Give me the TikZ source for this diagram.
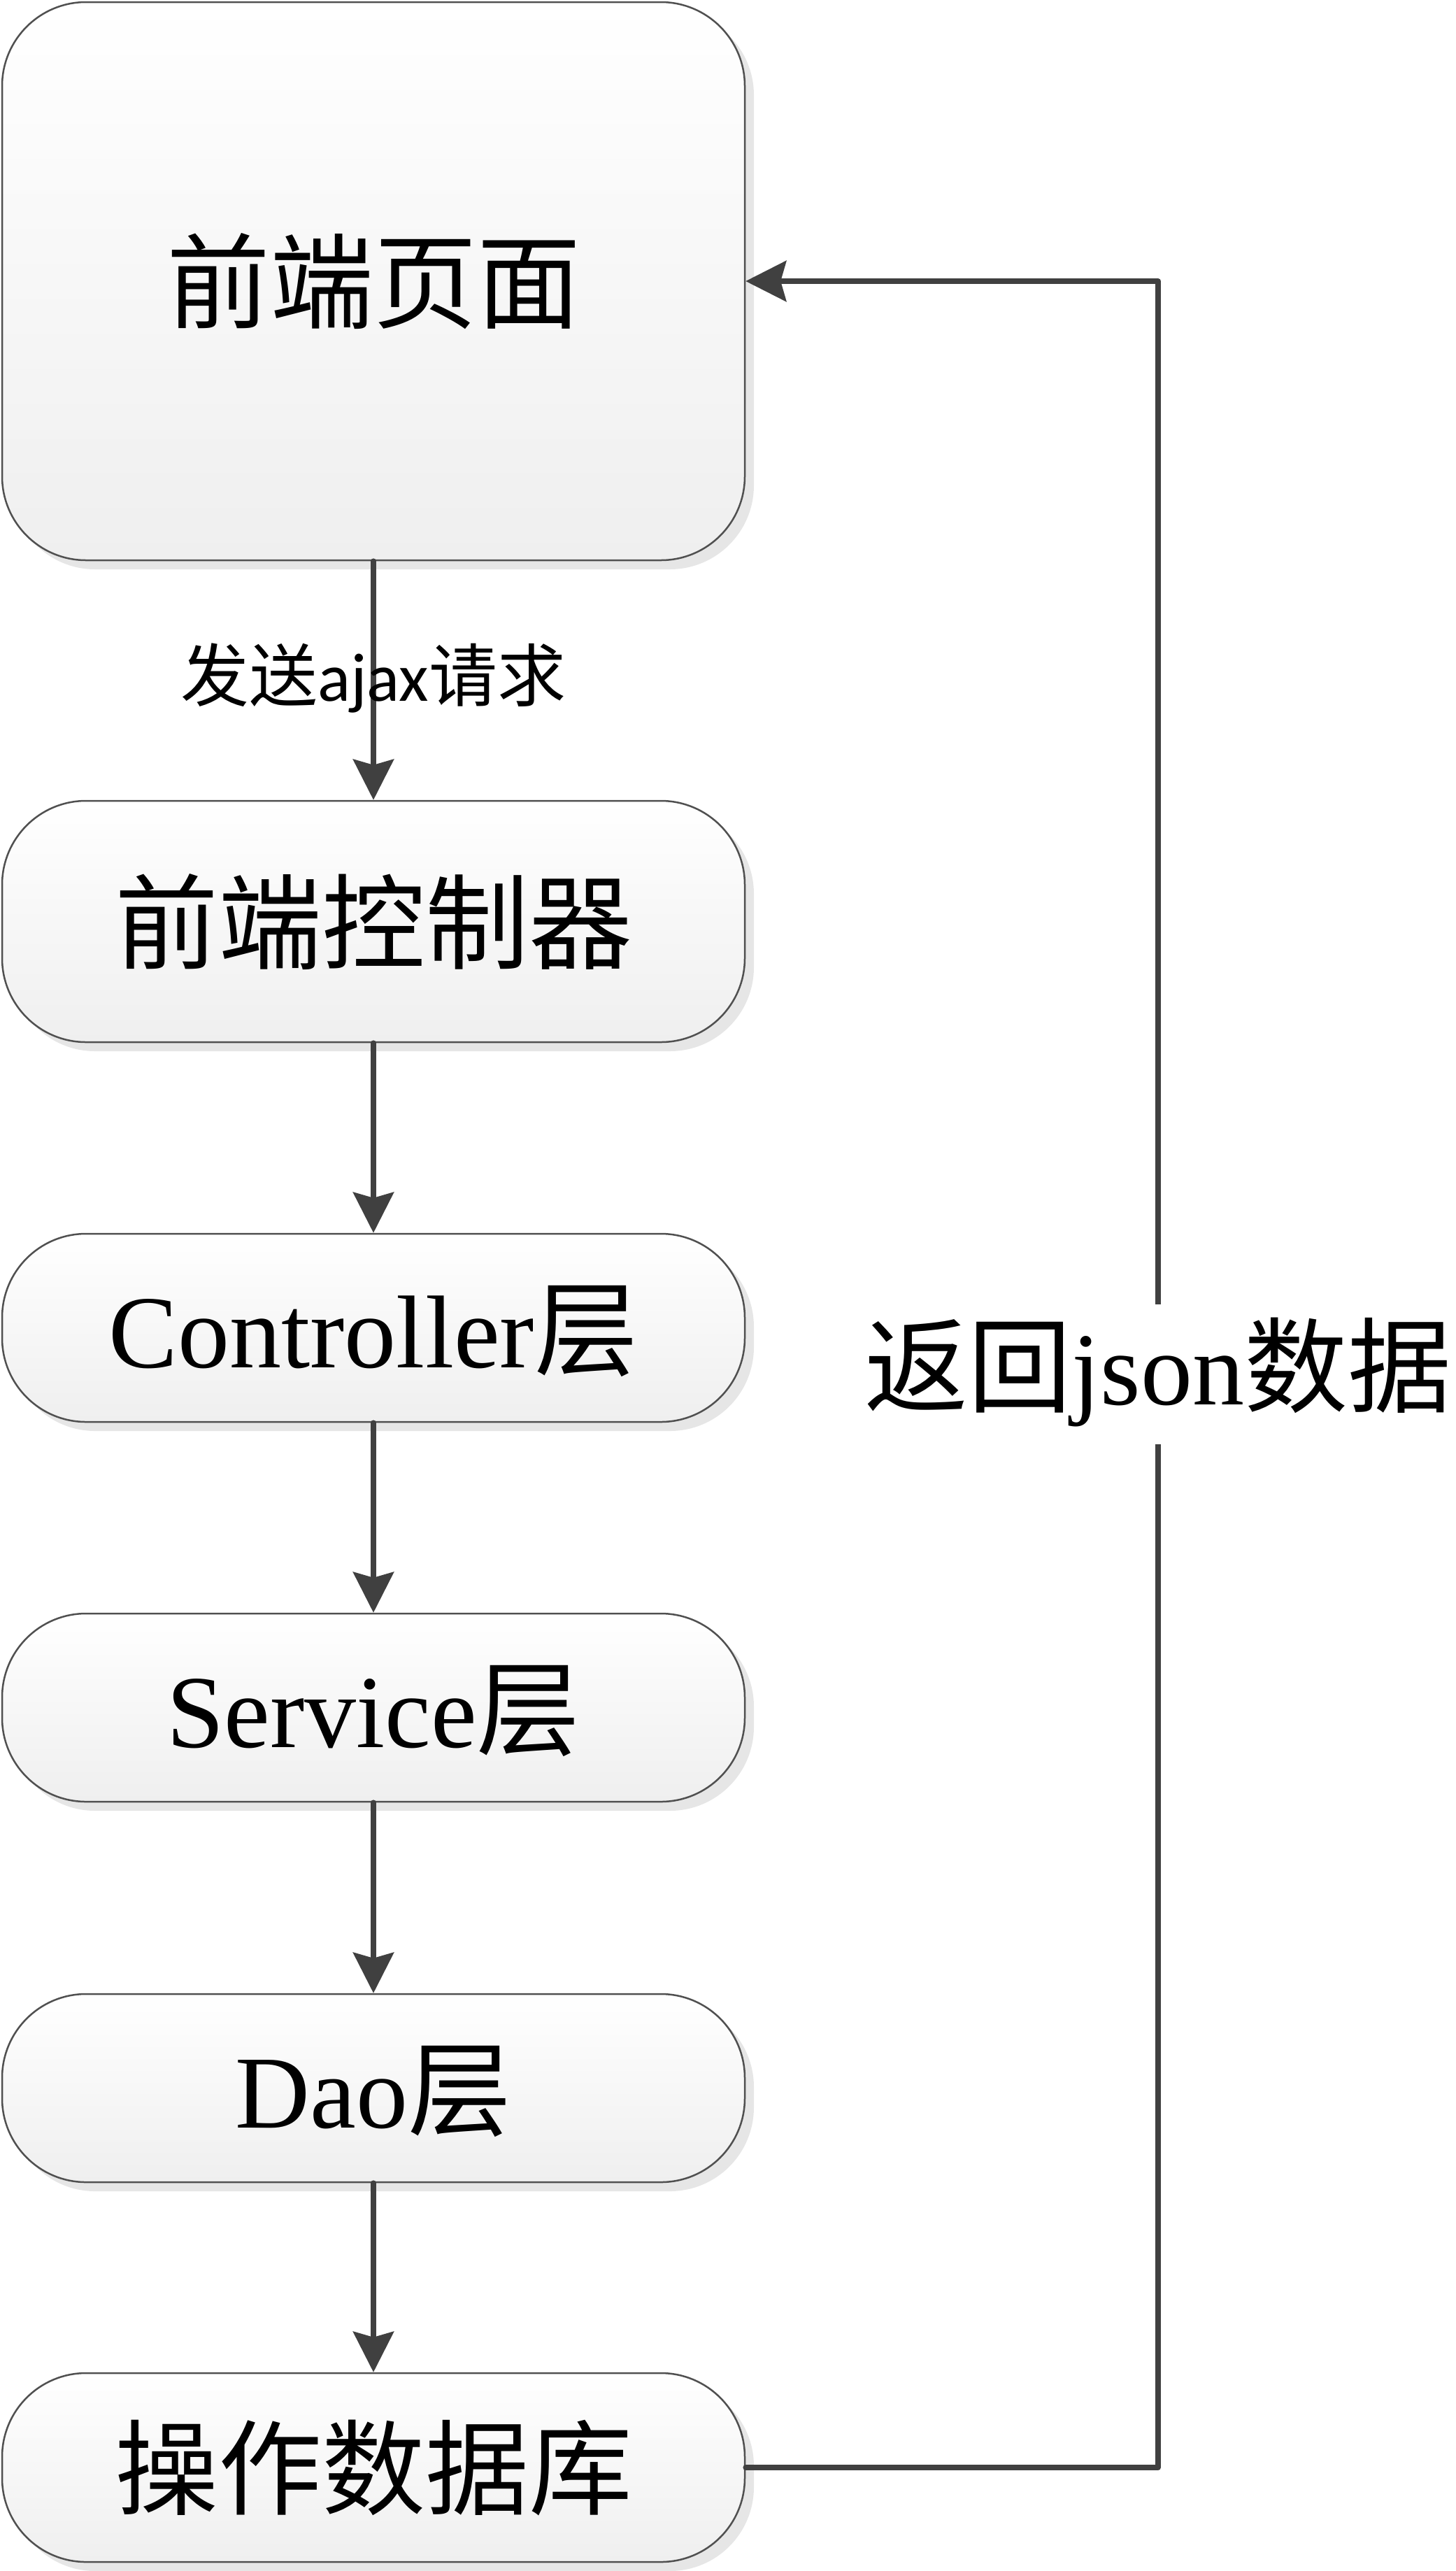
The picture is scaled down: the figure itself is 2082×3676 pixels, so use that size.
\documentclass[tikz,border=0pt]{standalone}
\usepackage{fontspec}
\setmainfont{Liberation Serif}
\newfontfamily\cjk{Noto Sans CJK SC}
\newfontfamily\carl{Carlito}
\usetikzlibrary{arrows.meta,shadows}
\definecolor{lineg}{HTML}{404040}
\definecolor{edgeg}{HTML}{505050}
\definecolor{shadowg}{HTML}{E6E6E6}
\definecolor{botg}{HTML}{EFEFEF}
\tikzset{
  box/.style={draw=edgeg, line width=2.5pt, rounded corners=120pt,
    top color=white, bottom color=botg, minimum width=1062pt,
    inner sep=0pt, text height=123pt, text depth=10pt,
    font=\fontsize{148pt}{148pt}\selectfont,
    drop shadow={shadow xshift=13pt, shadow yshift=-13pt, fill=shadowg, opacity=1}},
  conn/.style={draw=lineg, line width=7.7pt, line cap=round, line join=round,
    -{Stealth[length=58pt,width=58pt,inset=8pt]}},
}
\begin{document}
\begin{tikzpicture}[x=1pt,y=-1pt]
\useasboundingbox (0,0) rectangle (2082,3676);
\node[box, minimum height=798pt] (b1) at (534,402) {\cjk 前端页面};
\node[box, minimum height=345pt] (b2) at (534,1317.5) {\cjk 前端控制器};
\node[box, minimum height=269pt] (b3) at (534,1898.5) {Controller{\cjk 层}};
\node[box, minimum height=269pt] (b4) at (534,2441.5) {Service{\cjk 层}};
\node[box, minimum height=269pt] (b5) at (534,2985.5) {Dao{\cjk 层}};
\node[box, minimum height=270pt] (b6) at (534,3528) {\cjk 操作数据库};
\draw[conn] (b1) -- (b2);
\draw[conn] (b2) -- (b3);
\draw[conn] (b3) -- (b4);
\draw[conn] (b4) -- (b5);
\draw[conn] (b5) -- (b6);
\node[anchor=base, inner sep=0pt, font=\fontsize{98pt}{98pt}\selectfont] (lab1) at (534,1002) {{\cjk 发送}{\carl ajax}{\cjk 请求}};
\coordinate (rx) at (1656,1965);
\draw[conn] (b6.east) -| (rx) |- (b1.east);
\node[fill=white, inner xsep=0pt, inner ysep=20pt, text height=123pt, text depth=37pt,
  font=\fontsize{148pt}{148pt}\selectfont] (lab2) at (rx) {{\cjk 返回}json{\cjk 数据}};
\end{tikzpicture}
\end{document}
